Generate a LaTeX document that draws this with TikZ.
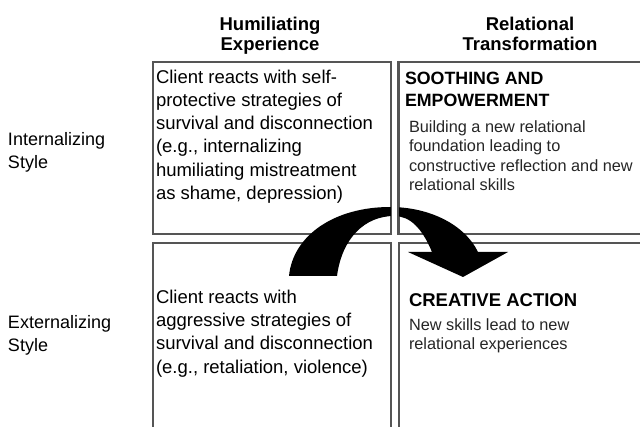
\documentclass[tikz,border=0pt]{standalone}
\usepackage{fontspec}
\setmainfont{Liberation Sans}
\begin{document}
\begin{tikzpicture}[x=1pt,y=-1pt,
  cell/.style={draw=boxgray, line width=1.6pt, rectangle, inner sep=0pt, anchor=north west},
  txt/.style={inner sep=0pt, outer sep=0pt, anchor=north west, align=left},
  head/.style={inner sep=0pt, outer sep=0pt, anchor=north, align=center, font=\bfseries\fontsize{18.5}{20}\selectfont},
  rowlab/.style={inner sep=0pt, outer sep=0pt, anchor=north west, align=left, font=\fontsize{18}{23}\selectfont},
  bigtxt/.style={txt, font=\fontsize{18.5}{23.3}\selectfont},
  capt/.style={txt, font=\bfseries\fontsize{17.8}{22}\selectfont},
  smalltxt/.style={txt, text=black!85, font=\fontsize{16.3}{19.6}\selectfont}
]
\definecolor{boxgray}{RGB}{85,85,85}
\useasboundingbox (0,0) rectangle (640,427);
\clip (0,0) rectangle (640,427);
\fill[white] (0,0) rectangle (640,427);

% headers
\node[head] (h1) at (270,16.7) {Humiliating\\Experience};
\node[head] (h2) at (530,16.7) {Relational\\Transformation};

% row labels
\node[rowlab] (r1) at (8,132) {Internalizing\\Style};
\node[rowlab] (r2) at (8,315) {Externalizing\\Style};

% cells
\node[cell, minimum width=238pt, minimum height=172pt] (tl) at (152,61) {};
\node[cell, minimum width=262pt, minimum height=172pt] (tr) at (398,61) {};
\node[cell, minimum width=238pt, minimum height=200pt] (bl) at (152,242) {};
\node[cell, minimum width=262pt, minimum height=200pt] (br) at (398,242) {};

% cell texts
\node[bigtxt] (tltext) at (156,69.6) {Client reacts with self-\\protective strategies of\\survival and disconnection\\(e.g., internalizing\\humiliating mistreatment\\as shame, depression)};
\node[capt] (trcap) at (405,72) {SOOTHING AND\\EMPOWERMENT};
\node[smalltxt] (trtext) at (409,120.3) {Building a new relational\\foundation leading to\\constructive reflection and new\\relational skills};
\node[bigtxt] (bltext) at (156,289.8) {Client reacts with\\aggressive strategies of\\survival and disconnection\\(e.g., retaliation, violence)};
\node[capt, font=\bfseries\fontsize{18.5}{22}\selectfont] (brcap) at (409,293.5) {CREATIVE ACTION};
\node[smalltxt] (brtext) at (409,318.3) {New skills lead to new\\relational experiences};

% curved arrow from internalizing experience to creative action
\fill[black] (289,276) .. controls (293,235) and (335,207) .. (390,207)
  .. controls (430,207) and (465,225) .. (478,252)
  -- (508,252) -- (463,277) -- (408,252) -- (432,252)
  .. controls (422,228) and (410,216) .. (394,216)
  .. controls (365,216) and (342,238) .. (337,276) -- cycle;

% column gap drawn over the arrow
\fill[white] (391,200) rectangle (397,233);
\draw[boxgray, line width=1.6pt] (tl.north east) -- (tl.south east);
\draw[boxgray, line width=1.6pt] (tr.north west) -- (tr.south west);
\end{tikzpicture}
\end{document}
